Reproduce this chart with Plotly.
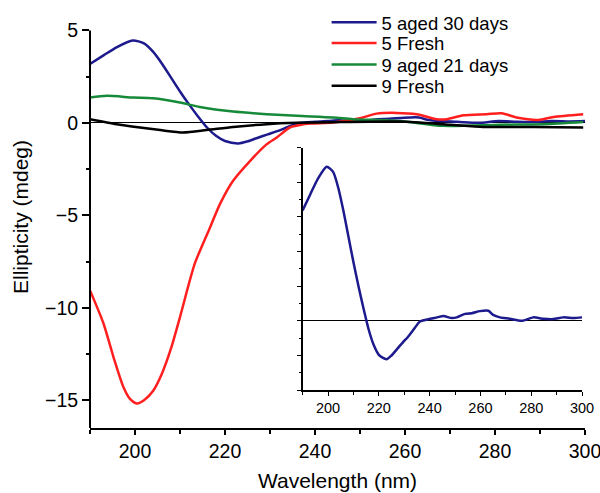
import plotly.graph_objects as go

# ---- data ----
aged5_x = [190, 193, 196, 199.5, 202, 204, 206, 208, 210, 212, 214, 216, 218, 220, 223, 225, 227, 229.5, 231.6, 234, 236.2,
           240.2, 243, 245.4, 248.7, 250.7, 254, 256.6, 259.8, 263.1, 265, 267.7, 271.6, 276.3, 280.8, 284.8, 288.7, 292.6, 296.6, 300]
aged5_y = [3.19, 3.65, 4.1, 4.45, 4.3, 3.85, 3.2, 2.45, 1.7, 1.0, 0.35, -0.25, -0.7, -0.98, -1.11, -1.0, -0.83, -0.62, -0.45, -0.22, -0.02,
           0.06, 0.1, 0.14, 0.08, 0.1, 0.2, 0.22, 0.28, 0.29, 0.17, 0.1, 0.06, 0.0, 0.1, 0.06, 0.05, 0.1, 0.08, 0.1]

fresh5_x = [190, 193, 195.2, 197.4, 198.8, 200.4, 202, 204, 206, 208, 210, 213.3, 216.7, 218.9, 221.8, 225.6, 229.3, 231.5, 234.4,
            236.7, 239, 244, 250, 253.7, 258.1, 262.6, 267, 269.3, 273, 278.1, 281.5, 284.8, 289.6, 293, 299.6]
fresh5_y = [-9.06, -10.85, -12.65, -14.27, -14.9, -15.17, -15.0, -14.5, -13.55, -12.2, -10.5, -7.6, -5.64, -4.38, -3.13, -2.05, -1.15, -0.79, -0.25,
            -0.11, -0.04, 0.02, 0.25, 0.5, 0.54, 0.47, 0.2, 0.2, 0.41, 0.47, 0.52, 0.29, 0.16, 0.32, 0.47]

aged9_x = [190, 193.7, 199.6, 204, 210, 214.4, 221.8, 229.3, 236, 244, 248.5, 258.9, 268.5, 281.1, 290.7, 299.6]
aged9_y = [1.37, 1.46, 1.37, 1.33, 1.1, 0.86, 0.61, 0.47, 0.38, 0.29, 0.2, 0.1, -0.16, -0.1, -0.07, 0.05]

fresh9_x = [190, 195.9, 201.1, 205.6, 210.7, 215.9, 221.8, 229.3, 236, 244, 258.9, 270, 277.4, 288.5, 299.6]
fresh9_y = [0.2, -0.07, -0.25, -0.39, -0.52, -0.39, -0.22, -0.07, 0.0, 0.04, 0.07, -0.1, -0.22, -0.22, -0.25]

series_names = ["5 aged 30 days", "5 Fresh", "9 aged 21 days", "9 Fresh"]
main_xticks = [200, 220, 240, 260, 280, 300]
main_yticks = [5, 0, -5, -10, -15]
Y_MIN, Y_TOP_TICK = -16.5, 5

NAVY = "#1c1a8c"
RED = "#ff1f1f"
GREEN = "#178a3a"
BLACK = "#000000"
FONT = "Liberation Sans, Arial, Helvetica, sans-serif"

legend_ids = ["legend", "legend2", "legend3", "legend4"]
legend_rows_y = [0.958, 0.909, 0.858, 0.808]

fig = go.Figure()
for xs, ys, name, col, lid in [(aged5_x, aged5_y, series_names[0], NAVY, legend_ids[0]),
                               (fresh5_x, fresh5_y, series_names[1], RED, legend_ids[1]),
                               (aged9_x, aged9_y, series_names[2], GREEN, legend_ids[2]),
                               (fresh9_x, fresh9_y, series_names[3], BLACK, legend_ids[3])]:
    fig.add_trace(go.Scatter(x=xs, y=ys, name=name, mode="lines", legend=lid,
                             line=dict(color=col, width=2.5, shape="spline", smoothing=0.7)))

# inset
fig.add_trace(go.Scatter(x=aged5_x, y=aged5_y, mode="lines", showlegend=False,
                         line=dict(color=NAVY, width=2.5, shape="spline", smoothing=0.7),
                         xaxis="x2", yaxis="y2"))

# main y-axis spine only up to the top tick (5)
fig.add_shape(type="line", xref="paper", x0=0, x1=0, yref="y", y0=Y_MIN, y1=Y_TOP_TICK,
              line=dict(color="black", width=2), layer="above")

legend_style = dict(x=0.478, xanchor="left", yanchor="middle", bgcolor="rgba(0,0,0,0)",
                    font=dict(size=18.5), itemwidth=45, borderwidth=0)

fig.update_layout(
    width=600, height=493,
    margin=dict(l=90, r=15, t=5, b=65),
    paper_bgcolor="white", plot_bgcolor="rgba(0,0,0,0)",
    font=dict(family=FONT, size=20, color="black"),
    showlegend=True,
    legend=dict(y=legend_rows_y[0], **legend_style),
    legend2=dict(y=legend_rows_y[1], **legend_style),
    legend3=dict(y=legend_rows_y[2], **legend_style),
    legend4=dict(y=legend_rows_y[3], **legend_style),
    xaxis=dict(range=[190, 300], tickvals=main_xticks, showgrid=False, zeroline=False,
               automargin=False, ticklabeloverflow="allow",
               showline=True, linecolor="black", linewidth=2, ticks="outside",
               ticklen=5, tickwidth=1.5, tickcolor="black",
               minor=dict(dtick=10, tick0=190, ticks="outside", ticklen=4, tickwidth=1.5, tickcolor="black"),
               title=dict(text="Wavelength (nm)", standoff=12, font=dict(size=21)),
               tickfont=dict(size=19.5)),
    yaxis=dict(range=[Y_MIN, 6.32], tickvals=main_yticks, showgrid=False,
               automargin=False,
               zeroline=True, zerolinecolor="black", zerolinewidth=1,
               showline=False, ticks="outside",
               ticklen=7, tickwidth=1.5, tickcolor="black",
               minor=dict(tickvals=[2.5, -2.5, -7.5, -12.5], ticks="outside", ticklen=3, tickwidth=1.5, tickcolor="black"),
               title=dict(text="Ellipticity (mdeg)", standoff=10, font=dict(size=21)),
               tickfont=dict(size=19.5)),
    xaxis2=dict(domain=[0.4295, 0.994], anchor="y2", range=[190, 300],
                tickvals=main_xticks, showgrid=False, zeroline=False, automargin=False,
                ticklabeloverflow="allow",
                showline=True, linecolor="black", linewidth=1.5, ticks="outside",
                ticklen=4, tickwidth=1, tickcolor="black",
                minor=dict(dtick=10, tick0=190, ticks="outside", ticklen=3, tickwidth=1, tickcolor="black"),
                tickfont=dict(size=14.5)),
    yaxis2=dict(domain=[0.0898, 0.6643], anchor="x2", range=[-2, 5], automargin=False,
                dtick=1, showticklabels=False, showgrid=False,
                zeroline=True, zerolinecolor="black", zerolinewidth=1,
                showline=True, linecolor="black", linewidth=1.5, ticks="outside",
                ticklen=4, tickwidth=1, tickcolor="black",
                minor=dict(dtick=0.5, ticks="outside", ticklen=2, tickwidth=1, tickcolor="black")),
)

fig.write_html("out.html", config={"displayModeBar": False},
               post_script="document.body.style.margin='0';")
